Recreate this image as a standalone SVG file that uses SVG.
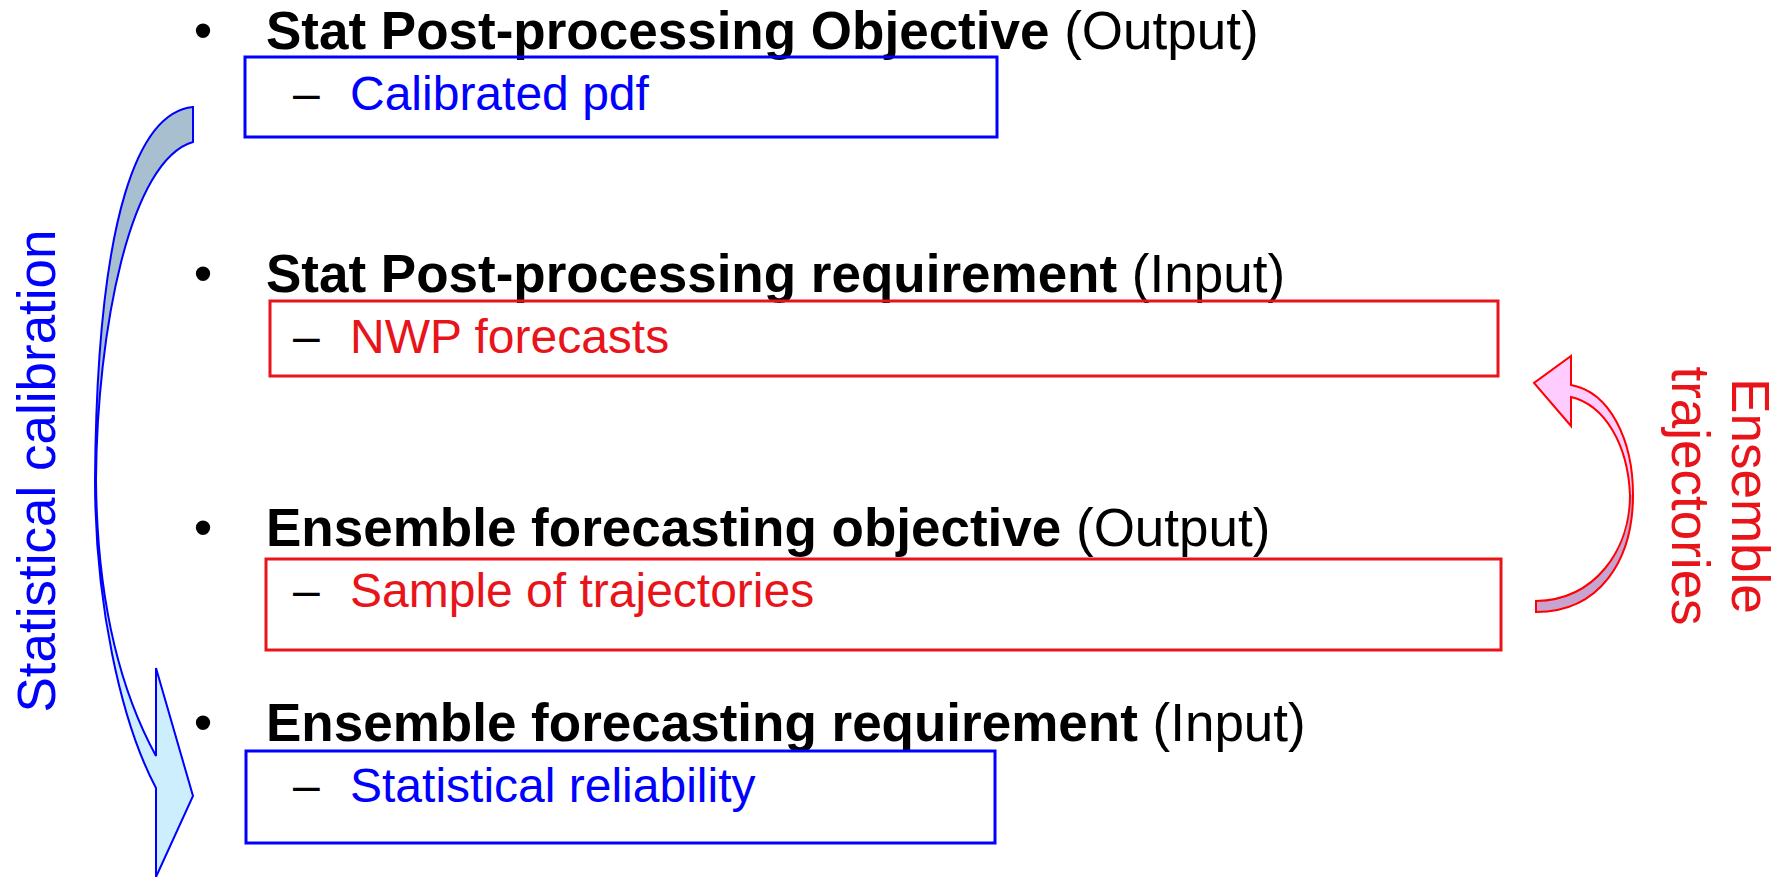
<svg xmlns="http://www.w3.org/2000/svg" width="1784" height="877" viewBox="0 0 1784 877">
<style>
  .head { font-family: "Liberation Sans", Arial, sans-serif; font-size: 53px; fill: #000; }
  .b { font-weight: bold; }
  .bullet { font-family: "Liberation Sans", Arial, sans-serif; font-size: 53px; fill: #000; text-anchor: middle; }
  .dash { font-family: "Liberation Sans", Arial, sans-serif; font-size: 48px; fill: #000; }
  .sub { font-family: "Liberation Sans", Arial, sans-serif; font-size: 48px; }
  .blue { fill: #0000ff; }
  .red { fill: #e8141a; }
  .boxb { fill: none; stroke: #0000ff; stroke-width: 3; }
  .boxr { fill: none; stroke: #e8141a; stroke-width: 3; }
  .side { font-family: "Liberation Sans", Arial, sans-serif; font-size: 53px; text-anchor: middle; }
</style>
<rect width="1784" height="877" fill="#ffffff"/>

<g id="connectors">
  <g id="arrow-statistical-calibration">
    <path d="M193,107 C140,112 97,210 95,480 L96,480 C97,330 130,160 193,142 Z" fill="#a7bfcf"/>
    <path d="M95,480 C95,600 120,720 156,788 L156,877 L193,796 L156,668 L156,756 C120,690 97,600 96,480 Z" fill="#cdeefc"/>
    <path d="M193,107 C140,112 97,210 95,480 C95,600 120,720 156,788 L156,877 L193,796 L156,668 L156,756 C120,690 97,600 96,480 C97,330 130,160 193,142 Z" fill="none" stroke="#0000ff" stroke-width="2" stroke-linejoin="miter"/>
  </g>
  <g id="arrow-ensemble-trajectories">
    <path d="M1536,612 C1600,612 1633,560 1633,495 L1630,495 C1630,550 1595,600 1536,601 Z" fill="#c9a3cf"/>
    <path d="M1633,495 C1633,440 1610,392 1571,385 L1571,356 L1534,383 L1571,426 L1571,397 C1605,405 1628,445 1630,495 Z" fill="#ffccff"/>
    <path d="M1536,612 C1600,612 1633,560 1633,495 C1633,440 1610,392 1571,385 L1571,356 L1534,383 L1571,426 L1571,397 C1605,405 1628,445 1630,495 C1630,550 1595,600 1536,601 Z" fill="none" stroke="#ff0000" stroke-width="2"/>
  </g>
</g>

<g id="label-statistical-calibration">
  <text class="side blue" transform="translate(55,471) rotate(-90)">Statistical calibration</text>
</g>
<g id="label-ensemble-trajectories">
  <text class="side red" transform="translate(1732,496) rotate(90)">Ensemble</text>
  <text class="side red" transform="translate(1672,496) rotate(90)">trajectories</text>
</g>

<g id="node-stat-objective">
  <text class="bullet" x="203" y="49">•</text>
  <text class="head" x="266" y="49"><tspan class="b">Stat Post-processing Objective</tspan> (Output)</text>
  <rect class="boxb" x="245" y="57" width="752" height="80"/>
  <text class="dash" x="293" y="110">–</text>
  <text class="sub blue" x="350" y="110">Calibrated pdf</text>
</g>

<g id="node-stat-requirement">
  <text class="bullet" x="203" y="292">•</text>
  <text class="head" x="266" y="292"><tspan class="b">Stat Post-processing requirement</tspan> (Input)</text>
  <rect class="boxr" x="270" y="301" width="1228" height="75"/>
  <text class="dash" x="293" y="353">–</text>
  <text class="sub red" x="350" y="353">NWP forecasts</text>
</g>

<g id="node-ensemble-objective">
  <text class="bullet" x="203" y="546">•</text>
  <text class="head" x="266" y="546"><tspan class="b">Ensemble forecasting objective</tspan> (Output)</text>
  <rect class="boxr" x="266" y="559" width="1235" height="91"/>
  <text class="dash" x="293" y="607">–</text>
  <text class="sub red" x="350" y="607">Sample of trajectories</text>
</g>

<g id="node-ensemble-requirement">
  <text class="bullet" x="203" y="741">•</text>
  <text class="head" x="266" y="741"><tspan class="b">Ensemble forecasting requirement</tspan> (Input)</text>
  <rect class="boxb" x="246" y="751" width="749" height="92"/>
  <text class="dash" x="293" y="802">–</text>
  <text class="sub blue" x="350" y="802">Statistical reliability</text>
</g>
</svg>
